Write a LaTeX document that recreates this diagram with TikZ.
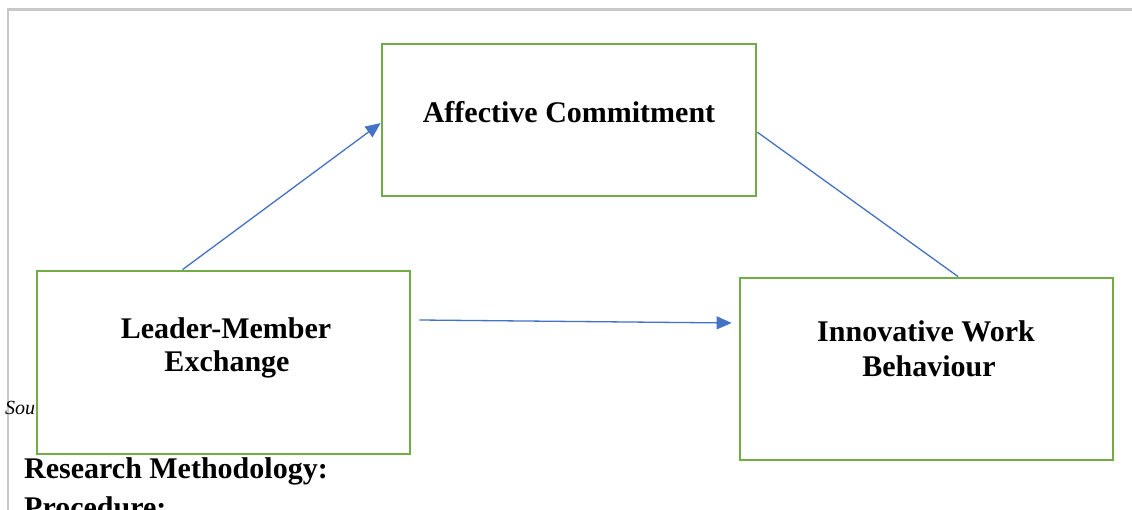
\documentclass[tikz,border=0pt]{standalone}
\usepackage{fontspec}
\setmainfont{Liberation Serif}
\usetikzlibrary{arrows.meta,calc}
\definecolor{boxgreen}{HTML}{70AD47}
\definecolor{arrblue}{HTML}{4472C4}
\definecolor{pagegray}{HTML}{C8C8C8}
\tikzset{
  box/.style={draw=boxgreen,line width=2.8pt,fill=white,rectangle,inner sep=0pt},
  lbl/.style={font=\fontsize{30}{34}\selectfont\bfseries,anchor=base,inner sep=0pt},
  hd/.style={font=\fontsize{30}{34}\selectfont\bfseries,anchor=base west,inner sep=0pt},
  arr/.style={draw=arrblue,line width=1.3pt,-{Triangle[length=15pt,width=13pt]}},
  con/.style={draw=arrblue,line width=1.3pt},
  border/.style={draw=pagegray,line width=2.6pt}
}
\begin{document}
\begin{tikzpicture}[x=1pt,y=-1pt]
\useasboundingbox (0,0) rectangle (1132,510);
\clip (0,0) rectangle (1132,510);
\fill[white] (0,0) rectangle (1132,510);
% page border
\coordinate (pbL) at (8,510);
\coordinate (pbC) at (8,9.5);
\coordinate (pbR) at (1132,9.5);
\draw[border] (pbL) -- (pbC) -- (pbR);
% partly hidden caption text
\node[font=\fontsize{20}{23}\selectfont\itshape,anchor=base west,inner sep=0pt] (sou) at (5,414) {Sou};
% boxes
\node[box,minimum width=374pt,minimum height=152pt] (A) at (569,120) {};
\node[box,minimum width=373pt,minimum height=183pt] (L) at (223.5,362.5) {};
\node[box,minimum width=373pt,minimum height=182pt] (I) at (926.5,369) {};
% labels
\node[lbl] (At) at (569,123) {Affective Commitment};
\node[lbl] (Lt1) at (226,338) {Leader-Member};
\node[lbl] (Lt2) at (227,371) {Exchange};
\node[lbl] (It1) at (926,342) {Innovative Work};
\node[lbl] (It2) at (929,376) {Behaviour};
% heading text
\node[hd] (h1) at (24,478) {Research Methodology:};
\node[hd] (h2) at (24,517) {Procedure:};
% connectors
\draw[arr] ($(L.north west)!0.391!(L.north east)$) -- ($(A.north west)!0.52!(A.south west)$);
\draw[con] ($(A.north east)!0.579!(A.south east)$) -- ($(I.north west)!0.584!(I.north east)$);
\coordinate (s3) at ([xshift=8pt]L.east |- 0,320);
\coordinate (e3) at ([xshift=-7pt]I.west |- 0,323);
\draw[arr] (s3) -- (e3);
\end{tikzpicture}
\end{document}
